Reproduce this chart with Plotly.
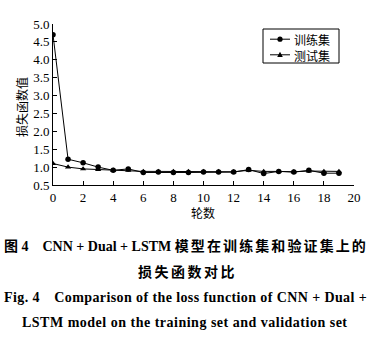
import plotly.graph_objects as go

# epoch index and loss values for both sets
epochs = list(range(20))
train_loss = [4.70, 1.22, 1.12, 1.00, 0.91, 0.95, 0.85, 0.86, 0.85, 0.85,
              0.86, 0.86, 0.86, 0.93, 0.82, 0.88, 0.86, 0.91, 0.83, 0.83]
test_loss = [1.10, 1.00, 0.95, 0.93, 0.91, 0.91, 0.88, 0.88, 0.88, 0.88,
             0.88, 0.88, 0.87, 0.91, 0.88, 0.88, 0.87, 0.89, 0.88, 0.88]
series_names = ["训练集", "测试集"]
x_ticks = list(range(0, 21, 2))
y_ticks = [0.5, 1.0, 1.5, 2.0, 2.5, 3.0, 3.5, 4.0, 4.5, 5.0]

SERIF = "Liberation Serif, Times New Roman, Noto Sans CJK SC, serif"
CJK = "Noto Sans CJK SC, sans-serif"

fig = go.Figure()
fig.add_trace(go.Scatter(
    x=epochs, y=train_loss, name=series_names[0], mode="lines+markers",
    line=dict(color="black", width=1),
    marker=dict(symbol="circle", size=5.5, color="black"),
    showlegend=False,
))
fig.add_trace(go.Scatter(
    x=epochs, y=test_loss, name=series_names[1], mode="lines+markers",
    line=dict(color="black", width=1),
    marker=dict(symbol="triangle-up", size=5.5, color="black"),
    showlegend=False,
))

W, H = 390, 338
L, R, T, B = 53, 36, 24, 153
pw, ph = W - L - R, H - T - B


def px(xp):
    return (xp - L) / pw


def py(yp):
    return (H - B - yp) / ph


axis_common = dict(
    showline=True, linecolor="black", linewidth=1, mirror=False,
    showgrid=False, zeroline=False, ticks="inside", ticklen=4,
    tickcolor="black", tickwidth=1,
    tickfont=dict(family=SERIF, size=13, color="black"),
)

fig.update_xaxes(range=[0, 20], tickvals=x_ticks, ticktext=[str(v) for v in x_ticks],
                 **axis_common)
fig.update_yaxes(range=[0.5, 5.0], tickvals=y_ticks,
                 ticktext=[f"{v:.1f}" for v in y_ticks], **axis_common)

caption_font = dict(family=SERIF, size=14, color="black")
annotations = [
    dict(text="损失函数值", x=px(21), y=py(107), textangle=-90,
         font=dict(family=CJK, size=12, color="black")),
    dict(text="轮数", x=px(203), y=py(212),
         font=dict(family=CJK, size=12, color="black")),
    dict(text="<b>图 4\u2003CNN + Dual + LSTM "
              "<span style='letter-spacing:2.1px'>模型在训练集和验证集上的</span></b>",
         x=px(186), y=py(246), font=caption_font),
    dict(text="<b><span style='letter-spacing:2.5px'>损失函数对比</span></b>",
         x=px(187), y=py(272), font=caption_font),
    dict(text="<b><span style='letter-spacing:0.4px'>Fig. 4\u2003Comparison of the "
              "loss function of CNN + Dual +</span></b>",
         x=px(185), y=py(297), font=caption_font),
    dict(text="<b><span style='letter-spacing:0.5px'>LSTM model on the training "
              "set and validation set</span></b>",
         x=px(185), y=py(322), font=caption_font),
]

# legend box drawn with paper-positioned shapes and one two-line label
box = dict(x0=263, x1=339, y0=29, y1=63)
legend_font = 12
row_gap = 1.3 * legend_font
row_center = 47
rows = [row_center - row_gap / 2, row_center + row_gap / 2]
sample_x0, sample_x1, sample_mid, text_x = 270, 290, 280, 292
shapes = [dict(type="rect", xref="paper", yref="paper",
               x0=px(box["x0"]), x1=px(box["x1"]), y0=py(box["y1"]), y1=py(box["y0"]),
               line=dict(color="black", width=1), fillcolor="white", layer="above")]
for ry in rows:
    shapes.append(dict(type="line", xref="paper", yref="paper",
                       x0=px(sample_x0), x1=px(sample_x1), y0=py(ry), y1=py(ry),
                       line=dict(color="black", width=1), layer="above"))
annotations.append(dict(text="<br>".join(series_names), x=px(text_x), y=py(row_center),
                        xanchor="left", align="left",
                        font=dict(family=CJK, size=legend_font, color="black")))
# circle glyph for the training row
r = 2.6
shapes.append(dict(type="circle", xref="paper", yref="paper",
                   x0=px(sample_mid - r), x1=px(sample_mid + r),
                   y0=py(rows[0] + r), y1=py(rows[0] - r),
                   fillcolor="black", line=dict(color="black", width=0), layer="above"))
# triangle glyph for the test row
t = 2.8
tri = (f"M {px(sample_mid - t)} {py(rows[1] + t * 0.8)} "
       f"L {px(sample_mid + t)} {py(rows[1] + t * 0.8)} "
       f"L {px(sample_mid)} {py(rows[1] - t * 1.1)} Z")
shapes.append(dict(type="path", xref="paper", yref="paper", path=tri,
                   fillcolor="black", line=dict(color="black", width=0), layer="above"))

for a in annotations:
    a.setdefault("xanchor", "center")
    a.update(xref="paper", yref="paper", showarrow=False, yanchor="middle")

fig.update_layout(
    width=W, height=H,
    margin=dict(l=L, r=R, t=T, b=B, pad=0),
    paper_bgcolor="white", plot_bgcolor="white",
    showlegend=False,
    annotations=annotations,
    shapes=shapes,
)

fig.write_html("out.html")
